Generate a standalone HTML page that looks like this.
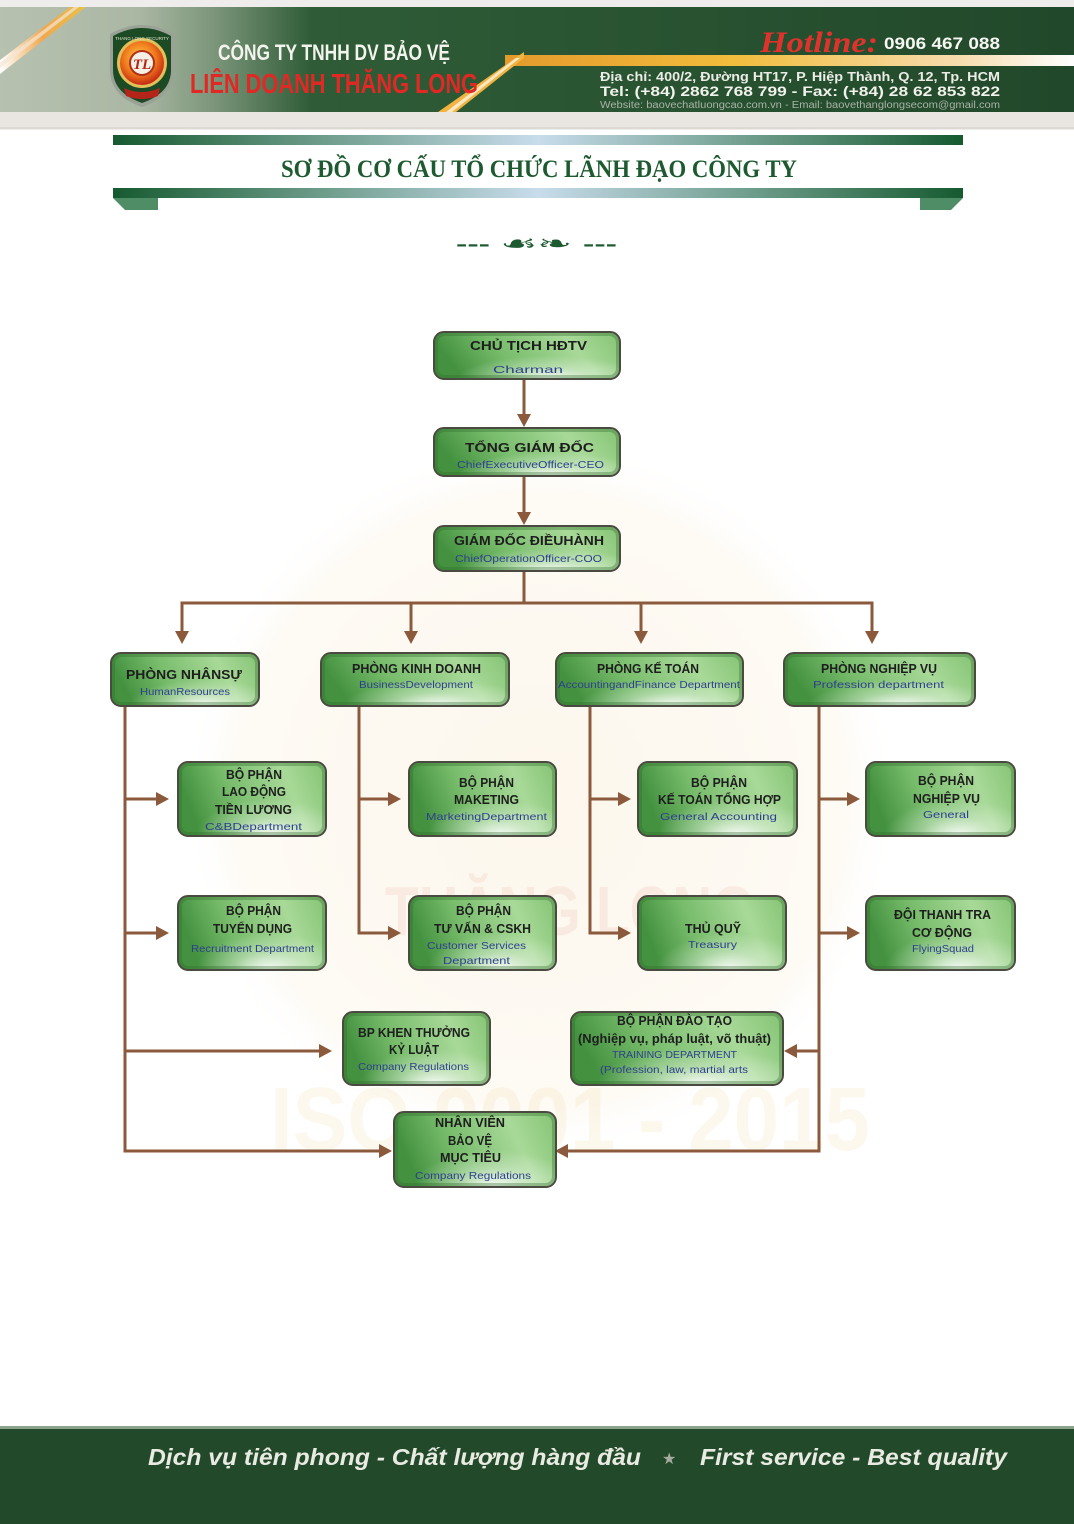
<!DOCTYPE html>
<html>
<head>
<meta charset="utf-8">
<style>
  html,body{margin:0;padding:0;background:#fff;}
  body{width:1074px;height:1524px;overflow:hidden;position:relative;}
  svg{position:absolute;left:0;top:0;}
  .t{font-family:"Liberation Sans","DejaVu Sans",sans-serif;font-weight:bold;fill:#1e1e1e;font-size:12.5px;text-anchor:start;}
  .s{font-family:"Liberation Sans","DejaVu Sans",sans-serif;fill:#2e3f8f;font-size:10.5px;}
</style>
</head>
<body>
<svg width="1074" height="1524" viewBox="0 0 1074 1524" xmlns="http://www.w3.org/2000/svg">
  <defs>
    <linearGradient id="hdr" x1="0" y1="0" x2="1" y2="0">
      <stop offset="0" stop-color="#b7c1b0"/>
      <stop offset="0.13" stop-color="#aab7a3"/>
      <stop offset="0.2" stop-color="#7b957a"/>
      <stop offset="0.29" stop-color="#2f5c37"/>
      <stop offset="1" stop-color="#21482a"/>
    </linearGradient>
    <linearGradient id="stripe" x1="0" y1="0" x2="1" y2="0">
      <stop offset="0" stop-color="#e49a2c"/>
      <stop offset="0.4" stop-color="#f2bc3c"/>
      <stop offset="0.8" stop-color="#f7dcae"/>
      <stop offset="1" stop-color="#ffffff"/>
    </linearGradient>
    <linearGradient id="diag" x1="0" y1="0" x2="1" y2="0">
      <stop offset="0" stop-color="#ffffff"/>
      <stop offset="0.5" stop-color="#f0a850"/>
      <stop offset="1" stop-color="#e6c04a"/>
    </linearGradient>
    <linearGradient id="bar" x1="0" y1="0" x2="1" y2="0">
      <stop offset="0" stop-color="#165a30"/>
      <stop offset="0.25" stop-color="#6f9d8c"/>
      <stop offset="0.5" stop-color="#c8dcec"/>
      <stop offset="0.75" stop-color="#6f9d8c"/>
      <stop offset="1" stop-color="#165a30"/>
    </linearGradient>
    <radialGradient id="logoC" cx="0.45" cy="0.4" r="0.6">
      <stop offset="0" stop-color="#ffd24a"/>
      <stop offset="0.6" stop-color="#f07a1c"/>
      <stop offset="1" stop-color="#c62a14"/>
    </radialGradient>
    <linearGradient id="box" x1="0" y1="0.2" x2="1" y2="0">
      <stop offset="0" stop-color="#449240"/>
      <stop offset="0.3" stop-color="#77bc6b"/>
      <stop offset="0.7" stop-color="#a8d998"/>
      <stop offset="1" stop-color="#84c374"/>
    </linearGradient>
    <radialGradient id="hl" cx="0.62" cy="1" r="0.5">
      <stop offset="0" stop-color="#ffffff" stop-opacity="0.95"/>
      <stop offset="0.5" stop-color="#ffffff" stop-opacity="0.35"/>
      <stop offset="1" stop-color="#ffffff" stop-opacity="0"/>
    </radialGradient>
    <radialGradient id="wm" cx="0.5" cy="0.5" r="0.5">
      <stop offset="0" stop-color="#f4d9a8" stop-opacity="0.22"/>
      <stop offset="0.85" stop-color="#f6e2bd" stop-opacity="0.16"/>
      <stop offset="1" stop-color="#ffffff" stop-opacity="0"/>
    </radialGradient>
    <g id="bx"></g>
  </defs>

  <!-- ===== HEADER ===== -->
  <rect x="0" y="0" width="1074" height="130" fill="#eeedeb"/>
  <rect x="0" y="7" width="1074" height="105" fill="url(#hdr)"/>
  <polygon points="0,60 70,7 86,7 0,74" fill="url(#diag)"/>
  <polygon points="0,63 74,7 79,7 0,68" fill="#f3e6d6" opacity="0.7"/>
  <rect x="505" y="55" width="569" height="11" fill="url(#stripe)"/>
  <polygon points="438,112 456,112 524,58 524,52" fill="#f1b440"/>
  <polygon points="446,112 452,112 520,58 516,58" fill="#fff4e2" opacity="0.8"/>
  <rect x="0" y="112" width="1074" height="16" fill="#e9e6e2"/>
  <rect x="0" y="127" width="1074" height="2" fill="#ddd8d2"/>

  <!-- logo -->
  <path d="M110,34 Q142,16 174,34 L174,70 Q174,96 142,107 Q110,96 110,70 Z" fill="#9aa296"/>
  <path d="M113,36 Q142,20 171,36 L171,70 Q171,93 142,103 Q113,93 113,70 Z" fill="#1c4a25"/>
  <circle cx="142" cy="63" r="25" fill="#e1c05a"/>
  <circle cx="142" cy="63" r="22" fill="url(#logoC)"/>
  <circle cx="142" cy="63" r="12" fill="#f4f0e6" stroke="#b0301a" stroke-width="2"/>
  <text x="142" y="69" text-anchor="middle" font-family="Liberation Serif,serif" font-weight="bold" font-style="italic" font-size="15" fill="#b42418">TL</text>
  <path d="M124,88 Q142,96 160,88 L158,96 Q142,102 126,96 Z" fill="#b42418"/>
  <text x="142" y="40" text-anchor="middle" font-family="Liberation Sans,sans-serif" font-size="4.5" fill="#e0e6c8">THANG LONG SECURITY</text>

  <text x="218" y="60" textLength="232" lengthAdjust="spacingAndGlyphs" font-family="Liberation Sans,sans-serif" font-weight="bold" font-size="22" fill="#f4f4ee">CÔNG TY TNHH DV BẢO VỆ</text>
  <text x="190" y="93" textLength="288" lengthAdjust="spacingAndGlyphs" font-family="Liberation Sans,sans-serif" font-weight="bold" font-size="28" fill="#e22824">LIÊN DOANH THĂNG LONG</text>

  <text x="760" y="52" textLength="118" lengthAdjust="spacingAndGlyphs" font-family="Liberation Serif,serif" font-weight="bold" font-style="italic" font-size="30" fill="#e0322c">Hotline:</text>
  <text x="884" y="49" textLength="116" lengthAdjust="spacingAndGlyphs" font-family="Liberation Sans,sans-serif" font-weight="bold" font-size="17" fill="#f6f6f2">0906 467 088</text>
  <text x="600" y="81" textLength="400" lengthAdjust="spacingAndGlyphs" font-family="Liberation Sans,sans-serif" font-weight="bold" font-size="13" fill="#ecece6">Địa chỉ: 400/2, Đường HT17, P. Hiệp Thành, Q. 12, Tp. HCM</text>
  <text x="600" y="96" textLength="400" lengthAdjust="spacingAndGlyphs" font-family="Liberation Sans,sans-serif" font-weight="bold" font-size="14" fill="#f2f2ec">Tel: (+84) 2862 768 799 - Fax: (+84) 28 62 853 822</text>
  <text x="600" y="108" textLength="400" lengthAdjust="spacingAndGlyphs" font-family="Liberation Sans,sans-serif" font-size="10" fill="#a9b3a6">Website: baovechatluongcao.com.vn - Email: baovethanglongsecom@gmail.com</text>

  <!-- ===== TITLE ===== -->
  <rect x="113" y="135" width="850" height="10" fill="url(#bar)"/>
  <rect x="113" y="188" width="850" height="10" fill="url(#bar)"/>
  <polygon points="113,198 158,198 158,210 125,210" fill="#4f8d66"/>
  <polygon points="920,198 963,198 951,210 920,210" fill="#4f8d66"/>
  <text x="281" y="177" textLength="516" lengthAdjust="spacingAndGlyphs" font-family="Liberation Serif,serif" font-weight="bold" font-size="25" fill="#1d5a30">SƠ ĐỒ CƠ CẤU TỔ CHỨC LÃNH ĐẠO CÔNG TY</text>

  <text x="456" y="250" textLength="34" lengthAdjust="spacingAndGlyphs" font-family="Liberation Sans,sans-serif" font-weight="bold" font-size="18" fill="#1d5a30">---</text>
  <text x="500" y="251" textLength="72" lengthAdjust="spacingAndGlyphs" font-family="DejaVu Sans,sans-serif" font-weight="bold" font-size="22" fill="#1d5a30">☙❧</text>
  <text x="583" y="250" textLength="34" lengthAdjust="spacingAndGlyphs" font-family="Liberation Sans,sans-serif" font-weight="bold" font-size="18" fill="#1d5a30">---</text>

  <!-- watermark -->
  <circle cx="540" cy="800" r="360" fill="url(#wm)"/>
  <text x="385" y="935" textLength="370" lengthAdjust="spacingAndGlyphs" font-family="Liberation Sans,sans-serif" font-weight="bold" font-size="70" fill="#e8b0a0" opacity="0.18">THĂNG LONG</text>
  <text x="270" y="1150" textLength="600" lengthAdjust="spacingAndGlyphs" font-family="Liberation Sans,sans-serif" font-weight="bold" font-size="90" fill="#f3d9a0" opacity="0.18">ISO 9001 - 2015</text>

  <!-- ===== CONNECTORS ===== -->
  <g stroke="#8b5a3c" stroke-width="3" fill="none">
    <line x1="524" y1="379" x2="524" y2="415"/>
    <line x1="524" y1="476" x2="524" y2="513"/>
    <line x1="524" y1="571" x2="524" y2="603"/>
    <line x1="180.5" y1="603" x2="873.5" y2="603"/>
    <line x1="182" y1="603" x2="182" y2="632"/>
    <line x1="411" y1="603" x2="411" y2="632"/>
    <line x1="641" y1="603" x2="641" y2="632"/>
    <line x1="872" y1="603" x2="872" y2="632"/>
    <line x1="125" y1="706" x2="125" y2="1152.5"/>
    <line x1="359" y1="706" x2="359" y2="934.5"/>
    <line x1="590" y1="706" x2="590" y2="934.5"/>
    <line x1="819" y1="706" x2="819" y2="1152.5"/>
    <line x1="125" y1="799" x2="157" y2="799"/>
    <line x1="359" y1="799" x2="389" y2="799"/>
    <line x1="590" y1="799" x2="619" y2="799"/>
    <line x1="819" y1="799" x2="848" y2="799"/>
    <line x1="125" y1="933" x2="157" y2="933"/>
    <line x1="357.5" y1="933" x2="389" y2="933"/>
    <line x1="588.5" y1="933" x2="619" y2="933"/>
    <line x1="819" y1="933" x2="848" y2="933"/>
    <line x1="125" y1="1051" x2="320" y2="1051"/>
    <line x1="820.5" y1="1051" x2="796" y2="1051"/>
    <line x1="123.5" y1="1151" x2="380" y2="1151"/>
    <line x1="820.5" y1="1151" x2="567" y2="1151"/>
  </g>
  <g fill="#8b5a3c">
    <polygon points="517,414 531,414 524,427"/>
    <polygon points="517,512 531,512 524,525"/>
    <polygon points="175,631 189,631 182,644"/>
    <polygon points="404,631 418,631 411,644"/>
    <polygon points="634,631 648,631 641,644"/>
    <polygon points="865,631 879,631 872,644"/>
    <polygon points="156,792 156,806 169,799"/>
    <polygon points="388,792 388,806 401,799"/>
    <polygon points="618,792 618,806 631,799"/>
    <polygon points="847,792 847,806 860,799"/>
    <polygon points="156,926 156,940 169,933"/>
    <polygon points="388,926 388,940 401,933"/>
    <polygon points="618,926 618,940 631,933"/>
    <polygon points="847,926 847,940 860,933"/>
    <polygon points="319,1044 319,1058 332,1051"/>
    <polygon points="797,1044 797,1058 784,1051"/>
    <polygon points="379,1144 379,1158 392,1151"/>
    <polygon points="568,1144 568,1158 555,1151"/>
  </g>

  <!-- ===== BOXES ===== -->
  <g id="boxes">
    <!-- each box: base, highlight, inner edge, border -->
    <g>
      <rect x="434" y="332" width="186" height="47" rx="10" fill="url(#box)"/><rect x="434" y="332" width="186" height="47" rx="10" fill="url(#hl)"/>
      <rect x="436.5" y="334.5" width="181" height="42" rx="8" fill="none" stroke="#2e6a2c" stroke-opacity="0.35" stroke-width="3"/>
      <rect x="434" y="332" width="186" height="47" rx="10" fill="none" stroke="#4a4a40" stroke-width="2"/>
    </g>
    <g>
      <rect x="434" y="428" width="186" height="48" rx="10" fill="url(#box)"/><rect x="434" y="428" width="186" height="48" rx="10" fill="url(#hl)"/>
      <rect x="436.5" y="430.5" width="181" height="43" rx="8" fill="none" stroke="#2e6a2c" stroke-opacity="0.35" stroke-width="3"/>
      <rect x="434" y="428" width="186" height="48" rx="10" fill="none" stroke="#4a4a40" stroke-width="2"/>
    </g>
    <g>
      <rect x="434" y="526" width="186" height="45" rx="10" fill="url(#box)"/><rect x="434" y="526" width="186" height="45" rx="10" fill="url(#hl)"/>
      <rect x="436.5" y="528.5" width="181" height="40" rx="8" fill="none" stroke="#2e6a2c" stroke-opacity="0.35" stroke-width="3"/>
      <rect x="434" y="526" width="186" height="45" rx="10" fill="none" stroke="#4a4a40" stroke-width="2"/>
    </g>
    <!-- departments -->
    <g>
      <rect x="111" y="653" width="148" height="53" rx="10" fill="url(#box)"/><rect x="111" y="653" width="148" height="53" rx="10" fill="url(#hl)"/>
      <rect x="113.5" y="655.5" width="143" height="48" rx="8" fill="none" stroke="#2e6a2c" stroke-opacity="0.35" stroke-width="3"/>
      <rect x="111" y="653" width="148" height="53" rx="10" fill="none" stroke="#4a4a40" stroke-width="2"/>
    </g>
    <g>
      <rect x="321" y="653" width="188" height="53" rx="10" fill="url(#box)"/><rect x="321" y="653" width="188" height="53" rx="10" fill="url(#hl)"/>
      <rect x="323.5" y="655.5" width="183" height="48" rx="8" fill="none" stroke="#2e6a2c" stroke-opacity="0.35" stroke-width="3"/>
      <rect x="321" y="653" width="188" height="53" rx="10" fill="none" stroke="#4a4a40" stroke-width="2"/>
    </g>
    <g>
      <rect x="556" y="653" width="187" height="53" rx="10" fill="url(#box)"/><rect x="556" y="653" width="187" height="53" rx="10" fill="url(#hl)"/>
      <rect x="558.5" y="655.5" width="182" height="48" rx="8" fill="none" stroke="#2e6a2c" stroke-opacity="0.35" stroke-width="3"/>
      <rect x="556" y="653" width="187" height="53" rx="10" fill="none" stroke="#4a4a40" stroke-width="2"/>
    </g>
    <g>
      <rect x="784" y="653" width="191" height="53" rx="10" fill="url(#box)"/><rect x="784" y="653" width="191" height="53" rx="10" fill="url(#hl)"/>
      <rect x="786.5" y="655.5" width="186" height="48" rx="8" fill="none" stroke="#2e6a2c" stroke-opacity="0.35" stroke-width="3"/>
      <rect x="784" y="653" width="191" height="53" rx="10" fill="none" stroke="#4a4a40" stroke-width="2"/>
    </g>
    <!-- row 1 -->
    <g>
      <rect x="178" y="762" width="148" height="74" rx="10" fill="url(#box)"/><rect x="178" y="762" width="148" height="74" rx="10" fill="url(#hl)"/>
      <rect x="180.5" y="764.5" width="143" height="69" rx="8" fill="none" stroke="#2e6a2c" stroke-opacity="0.35" stroke-width="3"/>
      <rect x="178" y="762" width="148" height="74" rx="10" fill="none" stroke="#4a4a40" stroke-width="2"/>
    </g>
    <g>
      <rect x="409" y="762" width="147" height="74" rx="10" fill="url(#box)"/><rect x="409" y="762" width="147" height="74" rx="10" fill="url(#hl)"/>
      <rect x="411.5" y="764.5" width="142" height="69" rx="8" fill="none" stroke="#2e6a2c" stroke-opacity="0.35" stroke-width="3"/>
      <rect x="409" y="762" width="147" height="74" rx="10" fill="none" stroke="#4a4a40" stroke-width="2"/>
    </g>
    <g>
      <rect x="638" y="762" width="159" height="74" rx="10" fill="url(#box)"/><rect x="638" y="762" width="159" height="74" rx="10" fill="url(#hl)"/>
      <rect x="640.5" y="764.5" width="154" height="69" rx="8" fill="none" stroke="#2e6a2c" stroke-opacity="0.35" stroke-width="3"/>
      <rect x="638" y="762" width="159" height="74" rx="10" fill="none" stroke="#4a4a40" stroke-width="2"/>
    </g>
    <g>
      <rect x="866" y="762" width="149" height="74" rx="10" fill="url(#box)"/><rect x="866" y="762" width="149" height="74" rx="10" fill="url(#hl)"/>
      <rect x="868.5" y="764.5" width="144" height="69" rx="8" fill="none" stroke="#2e6a2c" stroke-opacity="0.35" stroke-width="3"/>
      <rect x="866" y="762" width="149" height="74" rx="10" fill="none" stroke="#4a4a40" stroke-width="2"/>
    </g>
    <!-- row 2 -->
    <g>
      <rect x="178" y="896" width="148" height="74" rx="10" fill="url(#box)"/><rect x="178" y="896" width="148" height="74" rx="10" fill="url(#hl)"/>
      <rect x="180.5" y="898.5" width="143" height="69" rx="8" fill="none" stroke="#2e6a2c" stroke-opacity="0.35" stroke-width="3"/>
      <rect x="178" y="896" width="148" height="74" rx="10" fill="none" stroke="#4a4a40" stroke-width="2"/>
    </g>
    <g>
      <rect x="409" y="896" width="147" height="74" rx="10" fill="url(#box)"/><rect x="409" y="896" width="147" height="74" rx="10" fill="url(#hl)"/>
      <rect x="411.5" y="898.5" width="142" height="69" rx="8" fill="none" stroke="#2e6a2c" stroke-opacity="0.35" stroke-width="3"/>
      <rect x="409" y="896" width="147" height="74" rx="10" fill="none" stroke="#4a4a40" stroke-width="2"/>
    </g>
    <g>
      <rect x="638" y="896" width="148" height="74" rx="10" fill="url(#box)"/><rect x="638" y="896" width="148" height="74" rx="10" fill="url(#hl)"/>
      <rect x="640.5" y="898.5" width="143" height="69" rx="8" fill="none" stroke="#2e6a2c" stroke-opacity="0.35" stroke-width="3"/>
      <rect x="638" y="896" width="148" height="74" rx="10" fill="none" stroke="#4a4a40" stroke-width="2"/>
    </g>
    <g>
      <rect x="866" y="896" width="149" height="74" rx="10" fill="url(#box)"/><rect x="866" y="896" width="149" height="74" rx="10" fill="url(#hl)"/>
      <rect x="868.5" y="898.5" width="144" height="69" rx="8" fill="none" stroke="#2e6a2c" stroke-opacity="0.35" stroke-width="3"/>
      <rect x="866" y="896" width="149" height="74" rx="10" fill="none" stroke="#4a4a40" stroke-width="2"/>
    </g>
    <!-- row 3 -->
    <g>
      <rect x="343" y="1012" width="147" height="73" rx="10" fill="url(#box)"/><rect x="343" y="1012" width="147" height="73" rx="10" fill="url(#hl)"/>
      <rect x="345.5" y="1014.5" width="142" height="68" rx="8" fill="none" stroke="#2e6a2c" stroke-opacity="0.35" stroke-width="3"/>
      <rect x="343" y="1012" width="147" height="73" rx="10" fill="none" stroke="#4a4a40" stroke-width="2"/>
    </g>
    <g>
      <rect x="571" y="1012" width="212" height="73" rx="10" fill="url(#box)"/><rect x="571" y="1012" width="212" height="73" rx="10" fill="url(#hl)"/>
      <rect x="573.5" y="1014.5" width="207" height="68" rx="8" fill="none" stroke="#2e6a2c" stroke-opacity="0.35" stroke-width="3"/>
      <rect x="571" y="1012" width="212" height="73" rx="10" fill="none" stroke="#4a4a40" stroke-width="2"/>
    </g>
    <!-- row 4 -->
    <g>
      <rect x="394" y="1112" width="162" height="75" rx="10" fill="url(#box)"/><rect x="394" y="1112" width="162" height="75" rx="10" fill="url(#hl)"/>
      <rect x="396.5" y="1114.5" width="157" height="70" rx="8" fill="none" stroke="#2e6a2c" stroke-opacity="0.35" stroke-width="3"/>
      <rect x="394" y="1112" width="162" height="75" rx="10" fill="none" stroke="#4a4a40" stroke-width="2"/>
    </g>
  </g>

  <!-- ===== BOX TEXT ===== -->
  <g lengthAdjust="spacingAndGlyphs">
    <text class="t" x="470" y="350" font-size="15" textLength="117" lengthAdjust="spacingAndGlyphs">CHỦ TỊCH HĐTV</text>
    <text class="s" x="493" y="373" font-size="14" textLength="70" lengthAdjust="spacingAndGlyphs">Charman</text>

    <text class="t" x="465" y="452" font-size="17" textLength="129" lengthAdjust="spacingAndGlyphs">TỔNG GIÁM ĐỐC</text>
    <text class="s" x="457" y="468" font-size="11" textLength="147" lengthAdjust="spacingAndGlyphs">ChiefExecutiveOfficer-CEO</text>

    <text class="t" x="454" y="545" font-size="14" textLength="150" lengthAdjust="spacingAndGlyphs">GIÁM ĐỐC ĐIỀUHÀNH</text>
    <text class="s" x="455" y="562" font-size="11" textLength="147" lengthAdjust="spacingAndGlyphs">ChiefOperationOfficer-COO</text>

    <text class="t" x="126" y="679" font-size="14" textLength="116" lengthAdjust="spacingAndGlyphs">PHÒNG NHÂNSỰ</text>
    <text class="s" x="140" y="695" textLength="90" lengthAdjust="spacingAndGlyphs">HumanResources</text>

    <text class="t" x="352" y="673" textLength="129" lengthAdjust="spacingAndGlyphs">PHÒNG KINH DOANH</text>
    <text class="s" x="359" y="688" textLength="114" lengthAdjust="spacingAndGlyphs">BusinessDevelopment</text>

    <text class="t" x="597" y="673" textLength="102" lengthAdjust="spacingAndGlyphs">PHÒNG KẾ TOÁN</text>
    <text class="s" x="558" y="688" textLength="182" lengthAdjust="spacingAndGlyphs">AccountingandFinance Department</text>

    <text class="t" x="821" y="673" textLength="116" lengthAdjust="spacingAndGlyphs">PHÒNG NGHIỆP VỤ</text>
    <text class="s" x="813" y="688" textLength="131" lengthAdjust="spacingAndGlyphs">Profession department</text>

    <text class="t" x="226" y="779" textLength="56" lengthAdjust="spacingAndGlyphs">BỘ PHẬN</text>
    <text class="t" x="222" y="796" textLength="64" lengthAdjust="spacingAndGlyphs">LAO ĐỘNG</text>
    <text class="t" x="215" y="814" textLength="77" lengthAdjust="spacingAndGlyphs">TIỀN LƯƠNG</text>
    <text class="s" x="205" y="830" textLength="97" lengthAdjust="spacingAndGlyphs">C&amp;BDepartment</text>

    <text class="t" x="459" y="787" textLength="55" lengthAdjust="spacingAndGlyphs">BỘ PHẬN</text>
    <text class="t" x="454" y="804" textLength="65" lengthAdjust="spacingAndGlyphs">MAKETING</text>
    <text class="s" x="426" y="820" textLength="121" lengthAdjust="spacingAndGlyphs">MarketingDepartment</text>

    <text class="t" x="691" y="787" textLength="56" lengthAdjust="spacingAndGlyphs">BỘ PHẬN</text>
    <text class="t" x="658" y="804" textLength="123" lengthAdjust="spacingAndGlyphs">KẾ TOÁN TỔNG HỢP</text>
    <text class="s" x="660" y="820" textLength="117" lengthAdjust="spacingAndGlyphs">General Accounting</text>

    <text class="t" x="918" y="785" textLength="56" lengthAdjust="spacingAndGlyphs">BỘ PHẬN</text>
    <text class="t" x="913" y="803" textLength="67" lengthAdjust="spacingAndGlyphs">NGHIỆP VỤ</text>
    <text class="s" x="923" y="818" textLength="46" lengthAdjust="spacingAndGlyphs">General</text>

    <text class="t" x="226" y="915" textLength="55" lengthAdjust="spacingAndGlyphs">BỘ PHẬN</text>
    <text class="t" x="213" y="933" textLength="79" lengthAdjust="spacingAndGlyphs">TUYỂN DỤNG</text>
    <text class="s" x="191" y="952" textLength="123" lengthAdjust="spacingAndGlyphs">Recruitment Department</text>

    <text class="t" x="456" y="915" textLength="55" lengthAdjust="spacingAndGlyphs">BỘ PHẬN</text>
    <text class="t" x="434" y="933" textLength="97" lengthAdjust="spacingAndGlyphs">TƯ VẤN &amp; CSKH</text>
    <text class="s" x="427" y="949" textLength="99" lengthAdjust="spacingAndGlyphs">Customer Services</text>
    <text class="s" x="443" y="964" textLength="67" lengthAdjust="spacingAndGlyphs">Department</text>

    <text class="t" x="685" y="933" textLength="56" lengthAdjust="spacingAndGlyphs">THỦ QUỸ</text>
    <text class="s" x="688" y="948" textLength="49" lengthAdjust="spacingAndGlyphs">Treasury</text>

    <text class="t" x="894" y="919" textLength="97" lengthAdjust="spacingAndGlyphs">ĐỘI THANH TRA</text>
    <text class="t" x="912" y="937" textLength="60" lengthAdjust="spacingAndGlyphs">CƠ ĐỘNG</text>
    <text class="s" x="912" y="952" textLength="62" lengthAdjust="spacingAndGlyphs">FlyingSquad</text>

    <text class="t" x="358" y="1037" textLength="112" lengthAdjust="spacingAndGlyphs">BP KHEN THƯỞNG</text>
    <text class="t" x="389" y="1054" textLength="50" lengthAdjust="spacingAndGlyphs">KỶ LUẬT</text>
    <text class="s" x="358" y="1070" textLength="111" lengthAdjust="spacingAndGlyphs">Company Regulations</text>

    <text class="t" x="617" y="1025" textLength="115" lengthAdjust="spacingAndGlyphs">BỘ PHẬN ĐÀO TẠO</text>
    <text class="t" x="578" y="1043" textLength="193" lengthAdjust="spacingAndGlyphs">(Nghiệp vụ, pháp luật, võ thuật)</text>
    <text class="s" x="612" y="1058" textLength="125" lengthAdjust="spacingAndGlyphs">TRAINING DEPARTMENT</text>
    <text class="s" x="600" y="1073" textLength="148" lengthAdjust="spacingAndGlyphs">(Profession, law, martial arts</text>

    <text class="t" x="435" y="1127" textLength="70" lengthAdjust="spacingAndGlyphs">NHÂN VIÊN</text>
    <text class="t" x="448" y="1145" textLength="44" lengthAdjust="spacingAndGlyphs">BẢO VỆ</text>
    <text class="t" x="440" y="1162" textLength="61" lengthAdjust="spacingAndGlyphs">MỤC TIÊU</text>
    <text class="s" x="415" y="1179" textLength="116" lengthAdjust="spacingAndGlyphs">Company Regulations</text>
  </g>

  <!-- ===== FOOTER ===== -->
  <rect x="0" y="1426" width="1074" height="4" fill="#8da28c"/>
  <rect x="0" y="1429" width="1074" height="95" fill="#224a2a"/>
  <text x="148" y="1465" textLength="493" lengthAdjust="spacingAndGlyphs" font-family="Liberation Sans,sans-serif" font-weight="bold" font-style="italic" font-size="23" fill="#e9ebe2">Dịch vụ tiên phong - Chất lượng hàng đầu</text>
  <text x="662" y="1464" font-family="DejaVu Sans,sans-serif" font-size="16" fill="#a5ab9e">★</text>
  <text x="700" y="1465" textLength="307" lengthAdjust="spacingAndGlyphs" font-family="Liberation Sans,sans-serif" font-weight="bold" font-style="italic" font-size="23" fill="#e9ebe2">First service - Best quality</text>
</svg>
</body>
</html>
